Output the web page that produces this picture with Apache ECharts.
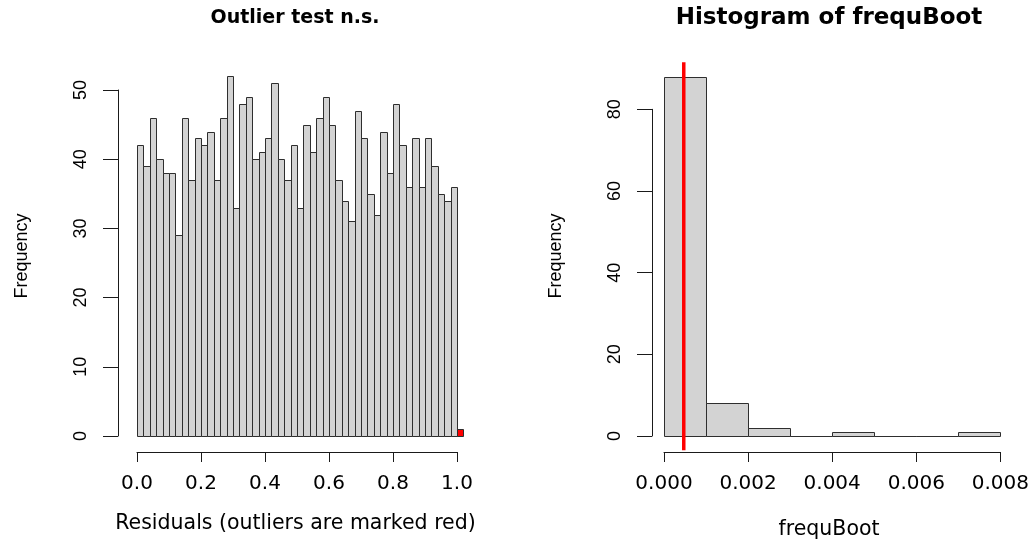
<!DOCTYPE html>
<html>
<head>
<meta charset="utf-8">
<script src="https://cdn.jsdelivr.net/npm/echarts@6/dist/echarts.min.js"></script>
<style>
html,body{margin:0;padding:0;background:#fff;}
#chart{width:1032px;height:541px;}
</style>
</head>
<body>
<div id="chart"></div>
<script>
// ---- Data ----
const residualBreaks = [0.00,0.02,0.04,0.06,0.08,0.10,0.12,0.14,0.16,0.18,0.20,0.22,0.24,0.26,0.28,0.30,0.32,0.34,0.36,0.38,0.40,0.42,0.44,0.46,0.48,0.50,0.52,0.54,0.56,0.58,0.60,0.62,0.64,0.66,0.68,0.70,0.72,0.74,0.76,0.78,0.80,0.82,0.84,0.86,0.88,0.90,0.92,0.94,0.96,0.98,1.00];
const residualCounts = [42,39,46,40,38,38,29,46,37,43,42,44,37,46,52,33,48,49,40,41,43,51,40,37,42,33,45,41,46,49,45,37,34,31,47,43,35,32,44,38,48,42,36,43,36,43,39,35,34,36];
const outlierBreaks = [1.00, 1.02];
const outlierCounts = [1];
const residualTicks = [0, 0.2, 0.4, 0.6, 0.8, 1.0];
const residualYTicks = [0, 10, 20, 30, 40, 50];

const bootBreaks = [0.000,0.001,0.002,0.003,0.004,0.005,0.006,0.007,0.008];
const bootCounts = [88, 8, 2, 0, 1, 0, 0, 1];
const bootTicks = [0.000, 0.002, 0.004, 0.006, 0.008];
const bootYTicks = [0, 20, 40, 60, 80];
const observedFrequ = 0.00047;

const leftTitle = 'Outlier test n.s.';
const rightTitle = 'Histogram of frequBoot';
const leftXName = 'Residuals (outliers are marked red)';
const rightXName = 'frequBoot';
const yName = 'Frequency';

// ---- Build ----
function binsToData(breaks, counts){
  return counts.map((c,i)=>[breaks[i], breaks[i+1], c]);
}
function histRender(fill){
  return function(params, api){
    const x0 = api.value(0), x1 = api.value(1), c = api.value(2);
    const p0 = api.coord([x0, 0]);
    const p1 = api.coord([x1, c]);
    return {
      type:'rect',
      shape:{x:Math.round(p0[0])+0.5, y:Math.round(p1[1])+0.5, width:Math.round(p1[0])-Math.round(p0[0]), height:Math.round(p0[1])-Math.round(p1[1])},
      style:{fill:fill, stroke:'#2e2e2e', lineWidth:1}
    };
  };
}
const axisColor = '#1a1a1a';
const hFont = 'DejaVu Sans';
const vFont = 'Liberation Sans';

function xAxisCfg(gridIndex, min, max, interval, fmt){
  return {
    type:'value', gridIndex, min, max, interval, offset:16,
    axisLine:{show:true, onZero:false, lineStyle:{color:axisColor, width:1}},
    axisTick:{show:true, length:10, lineStyle:{color:axisColor}},
    axisLabel:{show:true, margin:22, color:'#000', fontFamily:hFont, fontSize:20, formatter:fmt},
    splitLine:{show:false}
  };
}
function yAxisCfg(gridIndex, min, max, interval, offset){
  return {
    type:'value', gridIndex, min, max, interval, offset,
    axisLine:{show:true, onZero:false, lineStyle:{color:axisColor, width:1}},
    axisTick:{show:true, length:15, lineStyle:{color:axisColor}},
    axisLabel:{show:true, rotate:90, margin:28, color:'#000', fontFamily:vFont, fontSize:18},
    splitLine:{show:false}
  };
}

const chart = echarts.init(document.getElementById('chart'), null, {renderer:'canvas'});
const option = {
  animation:false,
  backgroundColor:'#fff',
  grid:[
    {left:137, top:90, width:320, height:346},
    {left:664, top:109.3, width:339.3, height:326.7}
  ],
  xAxis:[
    xAxisCfg(0, residualTicks[0], residualTicks[residualTicks.length-1], 0.2, v=>v.toFixed(1)),
    xAxisCfg(1, bootTicks[0], bootTicks[bootTicks.length-1], 0.002, v=>v.toFixed(3))
  ],
  yAxis:[
    yAxisCfg(0, residualYTicks[0], residualYTicks[residualYTicks.length-1], 10, 19),
    yAxisCfg(1, bootYTicks[0], bootYTicks[bootYTicks.length-1], 20, 12)
  ],
  series:[
    {type:'custom', xAxisIndex:0, yAxisIndex:0, clip:false, renderItem:histRender('#d3d3d3'),
     data:binsToData(residualBreaks, residualCounts)},
    {type:'custom', xAxisIndex:0, yAxisIndex:0, clip:false, renderItem:histRender('#ff0000'),
     data:binsToData(outlierBreaks, outlierCounts)},
    {type:'custom', xAxisIndex:1, yAxisIndex:1, clip:false, renderItem:histRender('#d3d3d3'),
     data:binsToData(bootBreaks, bootCounts)},
    {type:'custom', xAxisIndex:1, yAxisIndex:1, clip:false,
     renderItem:function(params, api){
       const x = api.value(0);
       const top = api.coord([x, bootCounts[0]*1.04]);
       const bot = api.coord([x, -bootCounts[0]*0.04]);
       return {type:'line', shape:{x1:top[0], y1:top[1], x2:bot[0], y2:bot[1]},
               style:{stroke:'#ff0000', lineWidth:3.5}};
     },
     data:[[observedFrequ]]}
  ],
  graphic:[
    {type:'text', x:295, y:18, style:{text:leftTitle, font:'bold 19px "DejaVu Sans"', fill:'#000', align:'center', verticalAlign:'middle'}},
    {type:'text', x:829, y:18, style:{text:rightTitle, font:'bold 23px "DejaVu Sans"', fill:'#000', align:'center', verticalAlign:'middle'}},
    {type:'text', x:295.5, y:524, style:{text:leftXName, font:'20.5px "DejaVu Sans"', fill:'#000', align:'center', verticalAlign:'middle'}},
    {type:'text', x:829, y:530, style:{text:rightXName, font:'20.5px "DejaVu Sans"', fill:'#000', align:'center', verticalAlign:'middle'}},
    {type:'text', x:22, y:256, rotation:Math.PI/2, style:{text:yName, font:'18px "Liberation Sans"', fill:'#000', align:'center', verticalAlign:'middle'}},
    {type:'text', x:556, y:256, rotation:Math.PI/2, style:{text:yName, font:'18px "Liberation Sans"', fill:'#000', align:'center', verticalAlign:'middle'}}
  ]
};
chart.setOption(option);
</script>
</body>
</html>
